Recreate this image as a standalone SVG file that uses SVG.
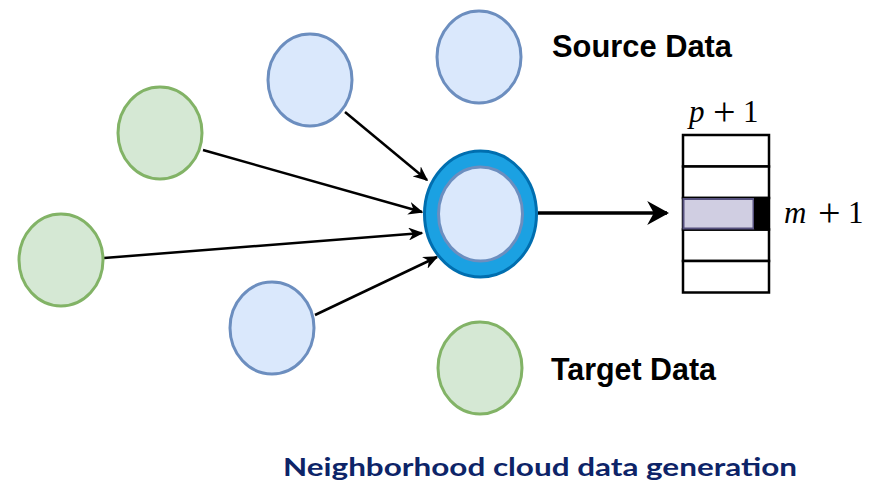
<svg xmlns="http://www.w3.org/2000/svg" width="871" height="483" viewBox="0 0 871 483">
  <defs>
    <style>
      .src { fill: #dae8fc; stroke: #6c8ebf; stroke-width: 3; }
      .tgt { fill: #d5e8d4; stroke: #82b366; stroke-width: 3; }
      .edge { stroke: #000; stroke-width: 2.5; fill: none; marker-end: url(#arrow); }
      .cell { fill: #fff; stroke: #000; stroke-width: 2.5; }
      .legend { font-family: "Liberation Sans", Arial, sans-serif; font-weight: bold; font-size: 31px; fill: #000; }
      .math { font-family: "Liberation Serif", "Times New Roman", serif; font-size: 31px; fill: #000; }
      .op { font-size: 40px; }
      .title { font-family: Lato, "Noto Sans", sans-serif; font-weight: bold; font-size: 25px; fill: #0d2468; }
    </style>
    <marker id="arrow" viewBox="0 0 10 10" refX="9" refY="5" markerWidth="15" markerHeight="13" orient="auto" markerUnits="userSpaceOnUse" preserveAspectRatio="none">
      <path d="M0,0 L10,5 L0,10 L3,5 Z" fill="#000"/>
    </marker>
    <marker id="arrowBig" viewBox="0 0 10 10" refX="9" refY="5" markerWidth="22" markerHeight="24" orient="auto" markerUnits="userSpaceOnUse" preserveAspectRatio="none">
      <path d="M0,0 L10,5 L0,10 L3,5 Z" fill="#000"/>
    </marker>
  </defs>

  <!-- connectors -->
  <g id="connectors">
    <line class="edge" x1="345" y1="112" x2="427" y2="180"/>
    <line class="edge" x1="203" y1="150" x2="422" y2="212"/>
    <line class="edge" x1="104" y1="258" x2="422" y2="233"/>
    <line class="edge" x1="315" y1="315" x2="437" y2="257"/>
    <line x1="538" y1="213" x2="667" y2="213" stroke="#000" stroke-width="3.5" marker-end="url(#arrowBig)"/>
  </g>

  <!-- neighbour nodes -->
  <g id="source-top"><ellipse class="src" cx="310" cy="80" rx="42" ry="46"/></g>
  <g id="target-upper"><ellipse class="tgt" cx="160" cy="133" rx="42" ry="46"/></g>
  <g id="target-left"><ellipse class="tgt" cx="61" cy="260" rx="42" ry="46"/></g>
  <g id="source-bottom"><ellipse class="src" cx="272" cy="328" rx="42" ry="46"/></g>

  <!-- central node -->
  <g id="center">
    <ellipse cx="480.5" cy="214" rx="56" ry="63" fill="#1ba1e2" stroke="#006eaf" stroke-width="3"/>
    <ellipse cx="480.5" cy="214" rx="42" ry="47" fill="#dae8fc" stroke="#6c8ebf" stroke-width="3"/>
  </g>

  <!-- legend -->
  <g id="legend-source">
    <ellipse class="src" cx="479" cy="57" rx="42" ry="46"/>
    <text class="legend" x="552" y="57" textLength="180" lengthAdjust="spacingAndGlyphs">Source Data</text>
  </g>
  <g id="legend-target">
    <ellipse class="tgt" cx="480" cy="368" rx="42" ry="46"/>
    <text class="legend" x="551" y="380" textLength="165" lengthAdjust="spacingAndGlyphs">Target Data</text>
  </g>

  <!-- output table -->
  <g id="table">
    <rect class="cell" x="683" y="135" width="86" height="31.5"/>
    <rect class="cell" x="683" y="166.5" width="86" height="31.5"/>
    <rect class="cell" x="683" y="229.5" width="86" height="31.5"/>
    <rect class="cell" x="683" y="261" width="86" height="31.5"/>
    <rect x="683" y="198" width="86" height="31.5" fill="#fff" stroke="#000" stroke-width="2.5"/>
    <rect x="683.5" y="199" width="70" height="29.5" fill="#d0cee2" stroke="#56517e" stroke-width="2"/>
    <rect x="754" y="198" width="15" height="31.5" fill="#000"/>
    <text class="math" y="122"><tspan x="689" font-style="italic">p</tspan><tspan class="op" x="713" y="125">+</tspan><tspan x="743" y="122">1</tspan></text>
    <text class="math" y="223"><tspan x="784" font-style="italic">m</tspan><tspan class="op" x="818" y="226">+</tspan><tspan x="848" y="223">1</tspan></text>
  </g>

  <text class="title" x="283" y="476" textLength="514" lengthAdjust="spacingAndGlyphs">Neighborhood cloud data generation</text>
</svg>
